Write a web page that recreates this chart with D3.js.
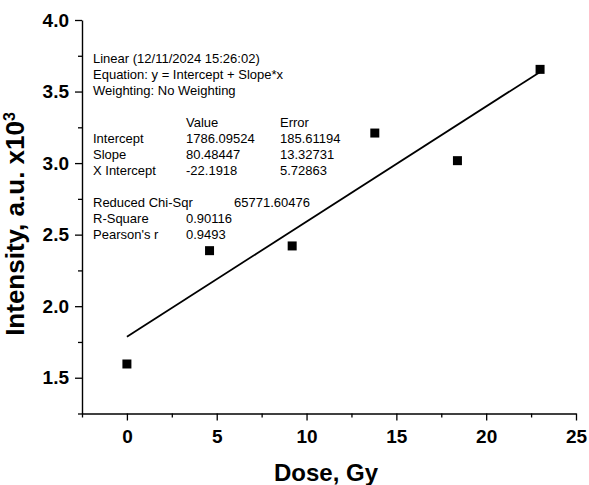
<!DOCTYPE html>
<html>
<head>
<meta charset="utf-8">
<script src="https://cdn.jsdelivr.net/npm/d3@7"></script>
<style>
  body { margin: 0; background: #fff; }
  svg { display: block; font-family: "Liberation Sans", Arial, sans-serif; }
</style>
</head>
<body>
<svg id="chart" width="589" height="485"></svg>
<script>
// measured points (dose in Gy, intensity in a.u.)
const dose = [0, 4.6, 9.2, 13.8, 18.4, 23];
const intensity = [1596, 2388, 2421, 3210, 3017, 3655];

// linear fit result as reported
const fitIntercept = 1786.09524;
const fitSlope = 80.48447;

const xMajor = [0, 5, 10, 15, 20, 25];
const xMinor = [-2.5, 2.5, 7.5, 12.5, 17.5, 22.5];
const yMajor = [1.5, 2.0, 2.5, 3.0, 3.5, 4.0];
const yMinor = [1.25, 1.75, 2.25, 2.75, 3.25, 3.75];

const headerLines = ['Linear (12/11/2024 15:26:02)', 'Equation: y = Intercept + Slope*x', 'Weighting: No Weighting'];
const paramNames = ['Intercept', 'Slope', 'X Intercept'];
const paramValues = ['1786.09524', '80.48447', '-22.1918'];
const paramErrors = ['185.61194', '13.32731', '5.72863'];
const statNames = ['Reduced Chi-Sqr', 'R-Square', "Pearson's r"];
const statValues = ['65771.60476', '0.90116', '0.9493'];

const plotLeft = 82, plotRight = 576, plotTop = 20, plotBottom = 413.5;

const svg = d3.select('#chart');

const x = d3.scaleLinear().domain([-2.5, 25]).range([plotLeft, plotRight]);
const y = d3.scaleLinear().domain([1.25, 4.0]).range([plotBottom, plotTop]);

// minor ticks first, then the major ones with labels
svg.append('g')
    .attr('transform', `translate(0,${plotBottom})`)
    .call(d3.axisBottom(x).tickValues(xMinor).tickSize(4).tickFormat(''))
    .call(g => g.select('.domain').remove())
    .call(g => g.selectAll('line').attr('stroke-width', 1.3));

const xAxis = svg.append('g')
    .attr('transform', `translate(0,${plotBottom})`)
    .call(d3.axisBottom(x).tickValues(xMajor).tickSize(7).tickSizeOuter(0).tickPadding(9).tickFormat(d3.format('d')));

svg.append('g')
    .attr('transform', `translate(${plotLeft},0)`)
    .call(d3.axisLeft(y).tickValues(yMinor).tickSize(4).tickFormat(''))
    .call(g => g.select('.domain').remove())
    .call(g => g.selectAll('line').attr('stroke-width', 1.3));

const yAxis = svg.append('g')
    .attr('transform', `translate(${plotLeft},0)`)
    .call(d3.axisLeft(y).tickValues(yMajor).tickSize(7).tickSizeOuter(0).tickPadding(6).tickFormat(d3.format('.1f')));

[xAxis, yAxis].forEach(g => {
    g.select('.domain').attr('stroke-width', 1.4);
    g.selectAll('line').attr('stroke-width', 1.3);
    g.selectAll('text')
        .attr('font-family', '"Liberation Sans", Arial, sans-serif')
        .attr('font-weight', 'bold')
        .attr('font-size', 19)
        .attr('fill', '#000');
});

// fit line
const fitLine = d3.line()
    .x(d => x(d))
    .y(d => y((fitIntercept + fitSlope * d) / 1000));

svg.append('path')
    .datum([d3.min(dose), d3.max(dose)])
    .attr('d', fitLine)
    .attr('fill', 'none')
    .attr('stroke', '#000')
    .attr('stroke-width', 1.8);

// data points
svg.append('g')
    .selectAll('path')
    .data(dose.map((d, i) => ({ dose: d, value: intensity[i] })))
    .join('path')
    .attr('d', d3.symbol(d3.symbolSquare, 81))
    .attr('transform', d => `translate(${x(d.dose)},${y(d.value / 1000)})`)
    .attr('fill', '#000');

// axis titles
svg.append('text')
    .attr('x', 326)
    .attr('y', 481)
    .attr('text-anchor', 'middle')
    .attr('font-weight', 'bold')
    .attr('font-size', 24)
    .text('Dose, Gy');

const yTitle = svg.append('text')
    .attr('transform', 'translate(24,224) rotate(-90)')
    .attr('text-anchor', 'middle')
    .attr('font-weight', 'bold')
    .attr('font-size', 26);
yTitle.append('tspan').text('Intensity, a.u. x10');
yTitle.append('tspan').attr('dy', -9).attr('font-size', 16).text('3');

// fit report
const report = svg.append('g')
    .attr('font-size', 13)
    .attr('fill', '#000');
const col1 = 93, col2 = 186, col3 = 280, colChi = 234;
const line0 = 63, lh = 16;

headerLines.forEach((t, i) => {
    report.append('text').attr('x', col1).attr('y', line0 + i * lh).text(t);
});
report.append('text').attr('x', col2).attr('y', line0 + 4 * lh).text('Value');
report.append('text').attr('x', col3).attr('y', line0 + 4 * lh).text('Error');
paramNames.forEach((t, i) => {
    const yy = line0 + (5 + i) * lh;
    report.append('text').attr('x', col1).attr('y', yy).text(t);
    report.append('text').attr('x', col2).attr('y', yy).text(paramValues[i]);
    report.append('text').attr('x', col3).attr('y', yy).text(paramErrors[i]);
});
statNames.forEach((t, i) => {
    const yy = line0 + (9 + i) * lh;
    report.append('text').attr('x', col1).attr('y', yy).text(t);
    report.append('text').attr('x', i === 0 ? colChi : col2).attr('y', yy).text(statValues[i]);
});
</script>
</body>
</html>
